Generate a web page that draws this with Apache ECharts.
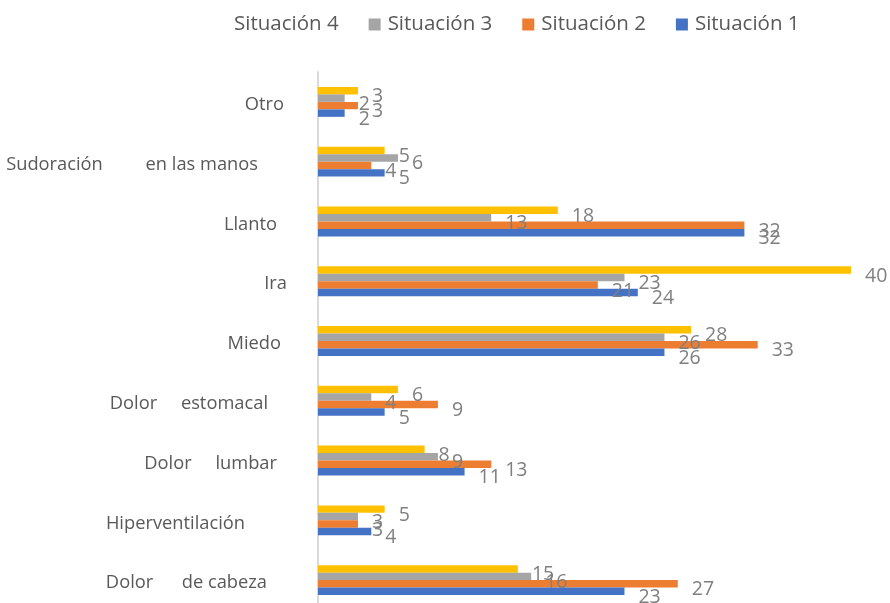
<!DOCTYPE html>
<html>
<head>
<meta charset="utf-8">
<script src="https://cdn.jsdelivr.net/npm/echarts@6/dist/echarts.min.js"></script>
<style>
html,body{margin:0;padding:0;background:#fff;overflow:hidden;}
#chart{width:890px;height:610px;}
</style>
</head>
<body>
<div id="chart"></div>
<script>
// Data
var categories = ['Dolor      de cabeza', 'Hiperventilación', 'Dolor     lumbar', 'Dolor     estomacal', 'Miedo', 'Ira', 'Llanto', 'Sudoración         en las manos', 'Otro'];
var situacion1 = [23, 4, 11, 5, 26, 24, 32, 5, 2];
var situacion2 = [27, 3, 13, 9, 33, 21, 32, 4, 3];
var situacion3 = [16, 3, 9, 4, 26, 23, 13, 6, 2];
var situacion4 = [15, 5, 8, 6, 28, 40, 18, 5, 3];
var seriesNames = ['Situación 1', 'Situación 2', 'Situación 3', 'Situación 4'];

// Style
var colors = ['#4472C4', '#ED7D31', '#A5A5A5', '#FFC000'];
var labelPad = [43, 65, 33, 42, 29, 23, 33, 52, 26];
var FONT = '"Open Sans", "Noto Sans", sans-serif';

var rich = {};
labelPad.forEach(function (p, i) {
  rich['p' + i] = { padding: [6, p, 0, 0], fontSize: 18.3, color: '#595959', fontFamily: FONT };
});

var seriesData = [situacion1, situacion2, situacion3, situacion4];
var series = [];
// Situación 4 drawn first so it sits at the top of each group
for (var i = 3; i >= 0; i--) {
  series.push({
    name: seriesNames[i],
    type: 'bar',
    data: seriesData[i],
    barGap: '0%',
    barCategoryGap: '50%',
    itemStyle: { color: colors[i] },
    label: {
      show: true,
      position: 'right',
      distance: 14,
      offset: [0, 6],
      color: '#808080',
      fontSize: 19.5,
      fontFamily: FONT
    },
    emphasis: { disabled: true },
    animation: false
  });
}

var chart = echarts.init(document.getElementById('chart'), null, { renderer: 'canvas' });
chart.setOption({
  backgroundColor: '#ffffff',
  animation: false,
  legend: {
    top: 9,
    left: 210,
    itemWidth: 12,
    itemHeight: 12,
    itemGap: 30,
    icon: 'rect',
    textStyle: { fontSize: 20.5, color: '#595959', fontFamily: FONT, padding: [0, 0, 0, 2] },
    data: [
      { name: 'Situación 4', itemStyle: { color: 'rgba(0,0,0,0)' } },
      { name: 'Situación 3' },
      { name: 'Situación 2' },
      { name: 'Situación 1' }
    ],
    selectedMode: false
  },
  grid: { left: 318, top: 72, width: 533, height: 538, containLabel: false },
  xAxis: {
    type: 'value',
    min: 0,
    max: 40,
    axisLabel: { show: false },
    axisLine: { show: false },
    axisTick: { show: false },
    splitLine: { show: false }
  },
  yAxis: {
    type: 'category',
    data: categories,
    axisLine: { show: true, lineStyle: { color: '#d9d9d9', width: 2 } },
    axisTick: { show: false },
    axisLabel: {
      margin: 8,
      formatter: function (v, i) { return '{p' + i + '|' + v + '}'; },
      rich: rich
    }
  },
  series: series
});
</script>
</body>
</html>
